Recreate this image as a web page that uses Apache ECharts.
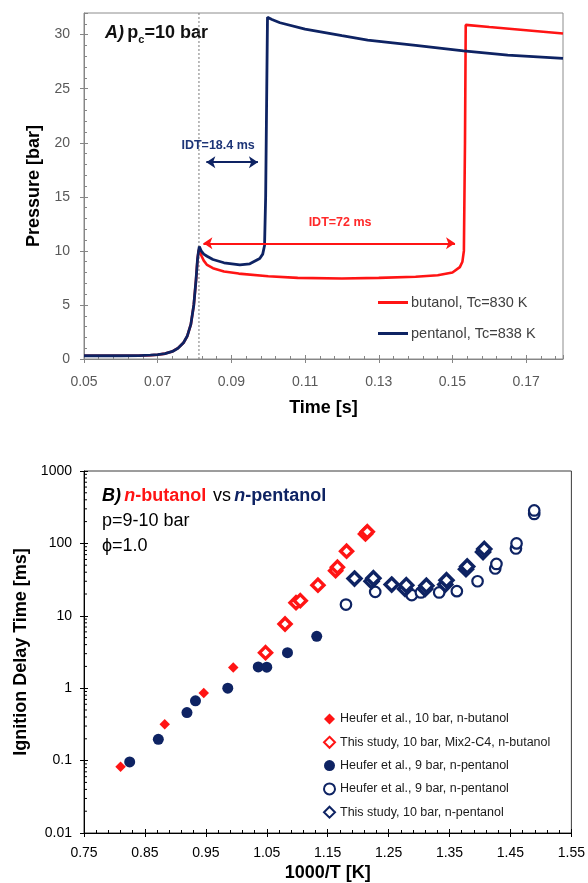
<!DOCTYPE html>
<html>
<head>
<meta charset="utf-8">
<script src="https://cdn.jsdelivr.net/npm/echarts@6/dist/echarts.min.js"></script>
<style>
  html, body { margin: 0; padding: 0; background: #fff; }
  #main { width: 588px; height: 883px; }
</style>
</head>
<body>
<div id="main"></div>
<script>
// ---------- Panel A: RCM pressure traces, time [s] vs pressure [bar] ----------
const compressionTrace = [
  [0.050, 0.30], [0.055, 0.30], [0.060, 0.30], [0.065, 0.32], [0.068, 0.35],
  [0.070, 0.40], [0.072, 0.50], [0.074, 0.70], [0.0755, 1.0], [0.077, 1.5],
  [0.078, 2.1], [0.079, 3.2], [0.0798, 5.0], [0.0804, 7.3], [0.0808, 9.2], [0.0811, 10.0]
];
const butanolAfterTdc = [
  [0.0813, 10.2], [0.0818, 9.6], [0.0825, 9.1], [0.0834, 8.7], [0.085, 8.4],
  [0.088, 8.1], [0.092, 7.9], [0.100, 7.65], [0.108, 7.5], [0.120, 7.45],
  [0.130, 7.5], [0.140, 7.6], [0.146, 7.75], [0.150, 8.0], [0.152, 8.5],
  [0.1527, 9.0], [0.1531, 10.0], [0.1534, 20.0], [0.1536, 30.9], [0.160, 30.7],
  [0.170, 30.4], [0.180, 30.1]
];
const pentanolAfterTdc = [
  [0.0813, 10.4], [0.0818, 10.0], [0.0825, 9.7], [0.0834, 9.5], [0.085, 9.2],
  [0.088, 8.9], [0.0923, 8.7], [0.095, 8.8], [0.0977, 9.3], [0.0985, 9.7],
  [0.0990, 10.5], [0.0993, 15.0], [0.0996, 25.0], [0.0998, 31.6], [0.1010, 31.4],
  [0.1032, 31.1], [0.110, 30.5], [0.120, 29.9], [0.127, 29.5], [0.140, 29.0],
  [0.153, 28.5], [0.165, 28.1], [0.180, 27.8]
];
const butanolTrace = compressionTrace.concat(butanolAfterTdc);
const pentanolTrace = compressionTrace.concat(pentanolAfterTdc);

const endOfCompression = 0.0812;   // s
const pressureAxisMax = 32;        // bar
const idtButanolMs = 72;
const idtPentanolMs = 18.4;
const traceNames = ['butanol, Tc=830 K', 'pentanol, Tc=838 K'];

// ---------- Panel B: ignition delay time [ms] vs 1000/T [K] ----------
const heuferButanol10 = [[0.810, 0.082], [0.8825, 0.318], [0.9466, 0.86], [0.995, 1.93]];
const studyButanol10 = [
  [1.048, 3.1], [1.080, 7.7], [1.098, 15.2], [1.105, 16.2], [1.134, 26.5],
  [1.163, 42], [1.166, 47], [1.181, 78], [1.212, 135], [1.215, 145]
];
const heuferPentanol9Fast = [
  [0.825, 0.096], [0.872, 0.197], [0.919, 0.46], [0.933, 0.67], [0.986, 1.0],
  [1.036, 1.97], [1.050, 1.95], [1.084, 3.1], [1.132, 5.2]
];
const heuferPentanol9Slow = [
  [1.180, 14.3], [1.228, 21.4], [1.288, 19.3], [1.303, 21], [1.333, 21],
  [1.362, 21.9], [1.396, 30], [1.425, 45], [1.427, 52], [1.459, 85],
  [1.460, 100], [1.489, 255], [1.489, 285]
];
const studyPentanol10 = [
  [1.194, 32.7], [1.222, 30], [1.225, 33], [1.255, 27], [1.277, 23.5],
  [1.279, 26.5], [1.310, 23.5], [1.312, 26], [1.343, 27], [1.345, 31],
  [1.377, 44], [1.379, 48], [1.405, 76], [1.407, 84]
];
const idtSeriesNames = [
  'Heufer et al., 10 bar, n-butanol',
  'This study, 10 bar, Mix2-C4, n-butanol',
  'Heufer et al., 9 bar, n-pentanol',
  'Heufer et al., 9 bar, n-pentanol ',
  'This study, 10 bar, n-pentanol'
];

// log-axis minor tick positions (2..9 within each decade)
const logMinorTicks = [];
for (let e = -2; e < 3; e++) {
  for (let m = 2; m <= 9; m++) logMinorTicks.push([0.75, +(m * Math.pow(10, e)).toPrecision(2)]);
}

const RED = '#ff1414';
const NAVY = '#0e2363';
const FONT = 'Liberation Sans';
const GREY_AXIS = '#868686';

const chart = echarts.init(document.getElementById('main'));

const nameStyle = { fontFamily: FONT, fontSize: 18, fontWeight: 'bold', color: '#000' };

chart.setOption({
  animation: false,
  textStyle: { fontFamily: FONT },
  grid: [
    { left: 84, top: 13, width: 479, height: 346, show: true, borderColor: '#8c8c8c', borderWidth: 1, containLabel: false },
    { left: 84, top: 471, width: 488, height: 362, show: true, borderColor: '#3a3a3a', borderWidth: 1, containLabel: false }
  ],
  xAxis: [
    {
      gridIndex: 0, type: 'value', min: 0.05, max: 0.18, interval: 0.02,
      name: 'Time [s]', nameLocation: 'middle', nameGap: 40, nameTextStyle: nameStyle,
      axisLine: { lineStyle: { color: GREY_AXIS, width: 1 } },
      axisTick: { inside: false, length: 4, lineStyle: { color: GREY_AXIS } },
      axisLabel: { margin: 16, fontSize: 14, color: '#595959', showMaxLabel: false, formatter: v => v.toFixed(2) },
      splitLine: { show: false }
    },
    {
      gridIndex: 0, type: 'value', min: 0.05, max: 0.18, interval: 0.02, position: 'bottom',
      axisLine: { show: false },
      axisTick: { inside: true, length: 4, lineStyle: { color: GREY_AXIS } },
      minorTick: { show: true, splitNumber: 5, length: 3, lineStyle: { color: GREY_AXIS } },
      axisLabel: { show: false }, splitLine: { show: false }
    },
    {
      gridIndex: 1, type: 'value', min: 0.75, max: 1.55, interval: 0.1,
      name: '1000/T [K]', nameLocation: 'middle', nameGap: 31, nameTextStyle: nameStyle,
      axisLine: { lineStyle: { color: '#000', width: 1 } },
      axisTick: { inside: false, length: 4, lineStyle: { color: '#000' } },
      axisLabel: { margin: 13, fontSize: 14, color: '#000', formatter: v => v.toFixed(2) },
      splitLine: { show: false }
    },
    {
      gridIndex: 1, type: 'value', min: 0.75, max: 1.55, interval: 0.1, position: 'bottom',
      axisLine: { show: false },
      axisTick: { inside: true, length: 4, lineStyle: { color: '#000' } },
      minorTick: { show: true, splitNumber: 5, length: 3, lineStyle: { color: '#000' } },
      axisLabel: { show: false }, splitLine: { show: false }
    }
  ],
  yAxis: [
    {
      gridIndex: 0, type: 'value', min: 0, max: pressureAxisMax, interval: 5,
      name: 'Pressure [bar]', nameLocation: 'middle', nameGap: 40, nameTextStyle: nameStyle,
      axisLine: { show: true, lineStyle: { color: GREY_AXIS, width: 1 } },
      axisTick: { show: true, inside: false, length: 4, lineStyle: { color: GREY_AXIS } },
      axisLabel: { margin: 14, fontSize: 14, color: '#595959', showMaxLabel: false },
      splitLine: { show: false }
    },
    {
      gridIndex: 0, type: 'value', min: 0, max: pressureAxisMax, interval: 5, position: 'left',
      axisLine: { show: false },
      axisTick: { show: true, inside: true, length: 4, lineStyle: { color: GREY_AXIS } },
      minorTick: { show: true, splitNumber: 5, length: 3, lineStyle: { color: GREY_AXIS } },
      axisLabel: { show: false }, splitLine: { show: false }
    },
    {
      gridIndex: 1, type: 'log', logBase: 10, min: 0.01, max: 1000,
      name: 'Ignition Delay Time [ms]', nameLocation: 'middle', nameGap: 54, nameTextStyle: nameStyle,
      axisLine: { show: true, lineStyle: { color: '#000', width: 1 } },
      axisTick: { show: true, inside: false, length: 4, lineStyle: { color: '#000' } },
      axisLabel: { margin: 12, fontSize: 14, color: '#000', formatter: v => (v >= 1 ? v.toFixed(0) : (+v).toPrecision(1)) },
      splitLine: { show: false }
    },
    {
      gridIndex: 1, type: 'log', logBase: 10, min: 0.01, max: 1000, position: 'left',
      axisLine: { show: false },
      axisTick: { show: true, inside: true, length: 4, lineStyle: { color: '#000' } },
      axisLabel: { show: false }, splitLine: { show: false }
    }
  ],
  legend: [
    {
      data: traceNames, orient: 'vertical', left: 378, top: 295, padding: 0,
      icon: 'rect', itemWidth: 30, itemHeight: 3, itemGap: 16,
      textStyle: { fontFamily: FONT, fontSize: 14.5, lineHeight: 14, color: '#404040', padding: [0, 0, 0, -2] }
    },
    {
      data: idtSeriesNames, orient: 'vertical', left: 323, top: 712, padding: 0,
      itemWidth: 11, itemHeight: 11, itemGap: 9.3,
      textStyle: { fontFamily: FONT, fontSize: 12.5, lineHeight: 14, color: '#1a1a1a' }
    }
  ],
  graphic: [
    {
      type: 'text', left: 105, top: 24, silent: true,
      style: {
        text: '{a|A)} {b|p}{s|c}{b|=10 bar}',
        rich: {
          a: { fontFamily: FONT, fontSize: 18, fontWeight: 'bold', fontStyle: 'italic', fill: '#111', verticalAlign: 'bottom' },
          b: { fontFamily: FONT, fontSize: 18, fontWeight: 'bold', fill: '#111', verticalAlign: 'bottom' },
          s: { fontFamily: FONT, fontSize: 11, fontWeight: 'bold', fill: '#111', verticalAlign: 'bottom', padding: [0, 0, -3, 0] }
        }
      }
    },
    {
      type: 'text', left: 102, top: 487, silent: true,
      style: {
        text: '{k|B)} {ri|n}{r|-butanol}  {v|vs} {ni|n}{n|-pentanol}',
        rich: {
          k: { fontFamily: FONT, fontSize: 18, fontWeight: 'bold', fontStyle: 'italic', fill: '#000' },
          ri: { fontFamily: FONT, fontSize: 18, fontWeight: 'bold', fontStyle: 'italic', fill: RED },
          r: { fontFamily: FONT, fontSize: 18, fontWeight: 'bold', fill: RED },
          v: { fontFamily: FONT, fontSize: 18, fill: '#000' },
          ni: { fontFamily: FONT, fontSize: 18, fontWeight: 'bold', fontStyle: 'italic', fill: NAVY },
          n: { fontFamily: FONT, fontSize: 18, fontWeight: 'bold', fill: NAVY }
        }
      }
    },
    {
      type: 'text', left: 102, top: 512, silent: true,
      style: { text: 'p=9-10 bar', fontFamily: FONT, fontSize: 18, fill: '#000' }
    },
    {
      type: 'text', left: 102, top: 537, silent: true,
      style: { text: 'ϕ=1.0', fontFamily: FONT, fontSize: 18, fill: '#000' }
    }
  ],
  series: [
    // end-of-compression marker (dotted vertical line)
    {
      type: 'line', xAxisIndex: 0, yAxisIndex: 0, silent: true, symbol: 'none',
      data: [[endOfCompression, 0], [endOfCompression, pressureAxisMax]],
      lineStyle: { type: [2, 2], color: '#7a7a7a', width: 1 }
    },
    {
      name: traceNames[0], type: 'line', xAxisIndex: 0, yAxisIndex: 0,
      data: butanolTrace, symbol: 'none', smooth: false,
      lineStyle: { color: RED, width: 2.6 }, itemStyle: { color: RED },
      markLine: {
        silent: true, symbol: ['arrow', 'arrow'], symbolSize: 9, animation: false,
        label: { show: false },
        lineStyle: { type: 'solid', color: RED, width: 2 },
        data: [[
          { coord: [endOfCompression + 0.0012, 10.7] },
          { coord: [endOfCompression + idtButanolMs / 1000 - 0.0025, 10.7] }
        ]]
      },
      markPoint: {
        silent: true, symbol: 'circle', symbolSize: 0, animation: false,
        data: [{ coord: [0.1195, 12.65], name: 'IDT=' + idtButanolMs + ' ms' }],
        label: {
          show: true, position: 'inside', formatter: p => p.name,
          fontFamily: FONT, fontSize: 12.5, fontWeight: 'bold', color: '#ff2a2a'
        }
      }
    },
    {
      name: traceNames[1], type: 'line', xAxisIndex: 0, yAxisIndex: 0,
      data: pentanolTrace, symbol: 'none', smooth: false,
      lineStyle: { color: NAVY, width: 2.8 }, itemStyle: { color: NAVY },
      markLine: {
        silent: true, symbol: ['arrow', 'arrow'], symbolSize: 9, animation: false,
        label: { show: false },
        lineStyle: { type: 'solid', color: NAVY, width: 2 },
        data: [[
          { coord: [endOfCompression + 0.0020, 18.2] },
          { coord: [endOfCompression + idtPentanolMs / 1000 - 0.0024, 18.2] }
        ]]
      },
      markPoint: {
        silent: true, symbol: 'circle', symbolSize: 0, animation: false,
        data: [{ coord: [0.0864, 19.7], name: 'IDT=' + idtPentanolMs + ' ms' }],
        label: {
          show: true, position: 'inside', formatter: p => p.name,
          fontFamily: FONT, fontSize: 12.5, fontWeight: 'bold', color: '#1d3577'
        }
      }
    },
    // log minor ticks on the ignition-delay axis
    {
      type: 'custom', xAxisIndex: 2, yAxisIndex: 2, data: logMinorTicks, silent: true, clip: false,
      renderItem: (params, api) => {
        const p = api.coord([api.value(0), api.value(1)]);
        return {
          type: 'line',
          shape: { x1: p[0], y1: p[1], x2: p[0] + 3, y2: p[1] },
          style: { stroke: '#000', lineWidth: 1 }
        };
      }
    },
    {
      name: idtSeriesNames[0], type: 'scatter', xAxisIndex: 2, yAxisIndex: 2,
      data: heuferButanol10, symbol: 'diamond', symbolSize: 10.5,
      itemStyle: { color: RED, opacity: 1 }
    },
    {
      name: idtSeriesNames[1], type: 'scatter', xAxisIndex: 2, yAxisIndex: 2,
      data: studyButanol10, symbol: 'diamond', symbolSize: 12,
      itemStyle: { color: '#fff', borderColor: RED, borderWidth: 3.4, opacity: 1 }
    },
    {
      name: idtSeriesNames[2], type: 'scatter', xAxisIndex: 2, yAxisIndex: 2,
      data: heuferPentanol9Fast, symbol: 'circle', symbolSize: 11,
      itemStyle: { color: NAVY, opacity: 1 }
    },
    {
      name: idtSeriesNames[3], type: 'scatter', xAxisIndex: 2, yAxisIndex: 2,
      data: heuferPentanol9Slow, symbol: 'circle', symbolSize: 10.5,
      itemStyle: { color: '#fff', borderColor: NAVY, borderWidth: 2.2, opacity: 1 }
    },
    {
      name: idtSeriesNames[4], type: 'scatter', xAxisIndex: 2, yAxisIndex: 2,
      data: studyPentanol10, symbol: 'diamond', symbolSize: 13,
      itemStyle: { color: '#fff', borderColor: NAVY, borderWidth: 3.4, opacity: 1 }
    }
  ]
});
</script>
</body>
</html>
